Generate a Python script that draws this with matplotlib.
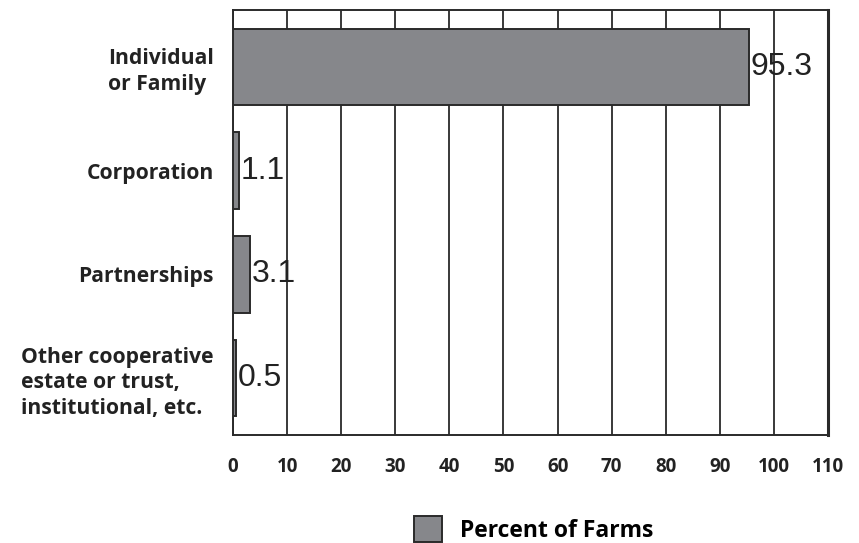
import matplotlib
matplotlib.use("Agg")
import matplotlib.pyplot as plt

categories = ["Individual\nor Family", "Corporation", "Partnerships",
              "Other cooperative\nestate or trust,\ninstitutional, etc."]
percent = [95.3, 1.1, 3.1, 0.5]
value_labels = ["95.3", "1.1", "3.1", "0.5"]
x_ticks = [0, 10, 20, 30, 40, 50, 60, 70, 80, 90, 100, 110]

plt.rcParams['font.family'] = ['Open Sans', 'DejaVu Sans']

fig = plt.figure(figsize=(8.59, 5.43), dpi=100)
ax = fig.add_axes([0.2712, 0.199, 0.6928, 0.7826])

ypos = range(len(categories))
bars = ax.barh(ypos, percent, height=0.74, color='#86878b',
               edgecolor='#2a2a2a', linewidth=1.4, label='Percent of Farms', zorder=3)

for i, (v, lab) in enumerate(zip(percent, value_labels)):
    ax.text(v + 0.3, i, lab, va='center', ha='left', fontsize=23,
            family='Liberation Sans', color='#222222', zorder=4)

ax.set_xlim(0, 110)
ax.set_ylim(3.55, -0.55)
ax.set_xticks(x_ticks)
ax.set_xticklabels([str(t) for t in x_ticks], fontsize=13.5, fontweight='bold', color='#222222')
ax.set_yticks(list(ypos))
ax.set_yticklabels(categories, fontsize=15.2, fontweight='bold', color='#222222',
                   multialignment='left', linespacing=1.3)
ax.tick_params(axis='both', length=0)
ax.tick_params(axis='y', pad=14)
ax.tick_params(axis='x', pad=16)

ax.grid(axis='x', color='#2a2a2a', linewidth=1.3, zorder=1)
for s in ax.spines.values():
    s.set_color('#2a2a2a')
    s.set_linewidth(1.4)
ax.spines['right'].set_linewidth(2.2)

fig.legend(handles=[bars], labels=['Percent of Farms'], loc='center left',
           bbox_to_anchor=(0.458, 0.025), frameon=False,
           prop={'weight': 'bold', 'size': 16.5}, handlelength=1.2, handleheight=1.4,
           handletextpad=0.8)

fig.savefig('out.png', dpi=100)
